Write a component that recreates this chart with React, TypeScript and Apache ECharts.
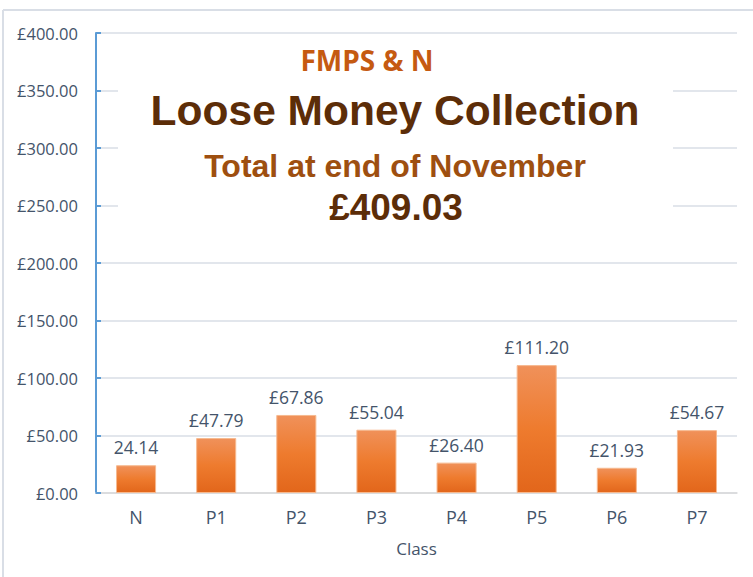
import React, { useEffect, useRef } from "react";
import * as echarts from "echarts";

const categories = ["N", "P1", "P2", "P3", "P4", "P5", "P6", "P7"];
const values = [24.14, 47.79, 67.86, 55.04, 26.4, 111.2, 21.93, 54.67];
const labelTexts = ["24.14", "£47.79", "£67.86", "£55.04", "£26.40", "£111.20", "£21.93", "£54.67"];
const titleLines = ["FMPS & N", "Loose Money Collection", "Total at end of November", "£409.03"];

export default function App() {
  const ref = useRef<HTMLDivElement>(null);
  useEffect(() => {
    if (!ref.current) return;
    const chart = echarts.init(ref.current, null, { renderer: "svg" });
    const textColor = "#44546A";
    chart.setOption({
      animation: false,
      backgroundColor: "#ffffff",
      grid: { left: 96, right: 16, top: 33, bottom: 84 },
      xAxis: {
        type: "category",
        data: categories,
        name: "Class",
        nameLocation: "middle",
        nameGap: 47,
        nameTextStyle: { color: textColor, fontSize: 17, fontFamily: "Open Sans" },
        axisLine: { lineStyle: { color: "#D9D9D9", width: 1.5 } },
        axisTick: { show: false },
        axisLabel: { color: textColor, fontSize: 18, fontFamily: "Open Sans", margin: 15 },
      },
      yAxis: {
        type: "value",
        min: 0,
        max: 400,
        interval: 50,
        axisLine: { show: true, lineStyle: { color: "#5B9BD5", width: 2 } },
        axisTick: { show: true, inside: true, length: 5, lineStyle: { color: "#5B9BD5", width: 2 } },
        splitLine: { lineStyle: { color: "#D9DEE6", width: 1.5 } },
        axisLabel: {
          color: textColor,
          fontSize: 16.5,
          fontFamily: "Open Sans",
          margin: 18,
          formatter: (v: number) => "£" + v.toFixed(2),
        },
      },
      graphic: [
        {
          type: "line",
          shape: { x1: 3, y1: 10, x2: 800, y2: 10 },
          style: { stroke: "#D9DEE6", lineWidth: 2 },
        },
        {
          type: "line",
          shape: { x1: 3, y1: 10, x2: 3, y2: 600 },
          style: { stroke: "#D9DEE6", lineWidth: 2 },
        },
        {
          type: "rect",
          shape: { x: 118, y: 40, width: 555, height: 188 },
          style: { fill: "#ffffff" },
          z: 10,
        },
        {
          type: "text",
          x: 367,
          y: 60,
          z: 11,
          style: {
            text: titleLines[0],
            fill: "#C55A11",
            font: "bold 28px 'Open Sans'",
            textAlign: "center",
            textVerticalAlign: "middle",
          },
        },
        {
          type: "text",
          x: 395,
          y: 110,
          z: 11,
          style: {
            text: titleLines[1],
            fill: "#5C2D08",
            font: "bold 42.5px 'Liberation Sans'",
            textAlign: "center",
            textVerticalAlign: "middle",
          },
        },
        {
          type: "text",
          x: 395,
          y: 166,
          z: 11,
          style: {
            text: titleLines[2],
            fill: "#9E4F10",
            font: "bold 32px 'Liberation Sans'",
            textAlign: "center",
            textVerticalAlign: "middle",
          },
        },
        {
          type: "text",
          x: 396,
          y: 207,
          z: 11,
          style: {
            text: titleLines[3],
            fill: "#5C2D08",
            font: "bold 37px 'Liberation Sans'",
            textAlign: "center",
            textVerticalAlign: "middle",
          },
        },
      ],
      series: [
        {
          type: "bar",
          data: values,
          barWidth: "50%",
          itemStyle: {
            color: new echarts.graphic.LinearGradient(0, 0, 0, 1, [
              { offset: 0, color: "#F0915A" },
              { offset: 0.5, color: "#EE7B2E" },
              { offset: 1, color: "#E2661B" },
            ]),
            borderColor: "#F6B98F",
            borderWidth: 1,
          },
          label: {
            show: true,
            position: "top",
            distance: 9,
            color: textColor,
            fontSize: 17.5,
            fontFamily: "Open Sans",
            formatter: (p: any) => labelTexts[p.dataIndex],
          },
        },
      ],
    });
    return () => chart.dispose();
  }, []);
  return (
    <div
      ref={ref}
      style={{ position: "fixed", left: 0, top: 0, width: 753, height: 577 }}
    />
  );
}
